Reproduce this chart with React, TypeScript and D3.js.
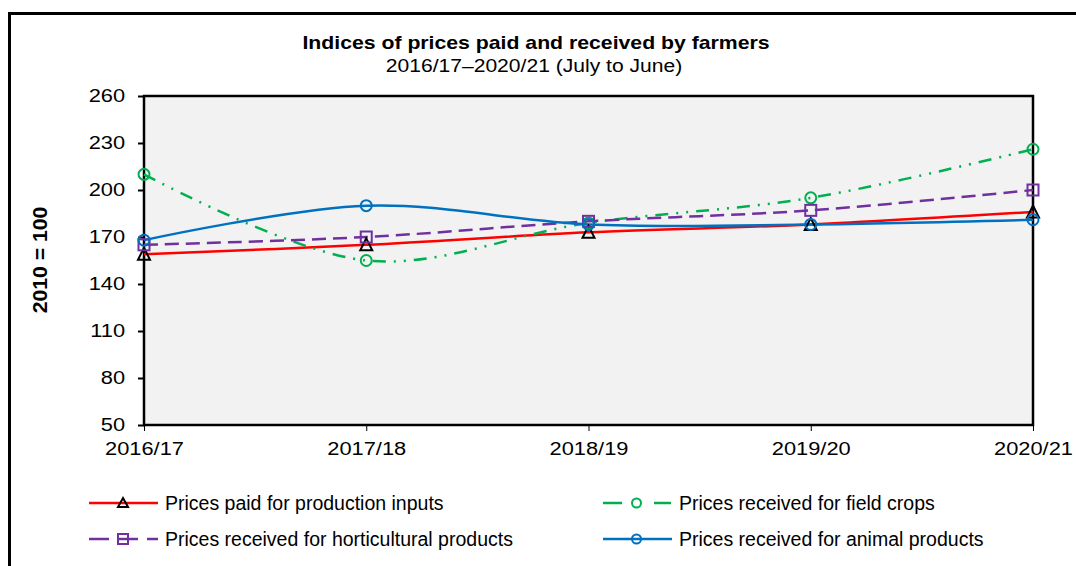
import React, { useRef, useEffect } from 'react';
import * as d3 from 'd3';

// Years (July to June)
const years = ['2016/17', '2017/18', '2018/19', '2019/20', '2020/21'];

// Index values, 2010 = 100
const paidInputs = [159, 165, 173, 178, 186];
const fieldCrops = [210, 155, 179, 195, 226];
const horticultural = [165, 170, 180, 187, 200];
const animalProducts = [168, 190, 178, 178, 181];

const yTicks = [50, 80, 110, 140, 170, 200, 230, 260];

const seriesList = [
  { name: 'Prices paid for production inputs', values: paidInputs, color: '#ff0000', dash: 'none', marker: 'triangle', markerColor: '#000000' },
  { name: 'Prices received for field crops', values: fieldCrops, color: '#00b050', dash: '13,8,2,8,2,8', marker: 'circle', markerColor: '#00b050' },
  { name: 'Prices received for horticultural products', values: horticultural, color: '#7030a0', dash: '14,7', marker: 'square', markerColor: '#7030a0' },
  { name: 'Prices received for animal products', values: animalProducts, color: '#0070c0', dash: 'none', marker: 'circle', markerColor: '#0070c0' },
];

const FONT = '"Liberation Sans", Arial, sans-serif';

const drawMarker = (g, type, cx, cy, color) => {
  if (type === 'triangle') {
    g.append('path')
      .attr('d', `M${cx},${cy - 6.5}L${cx + 6},${cy + 5.5}L${cx - 6},${cy + 5.5}Z`)
      .attr('fill', 'none')
      .attr('stroke', color)
      .attr('stroke-width', 2);
  } else if (type === 'square') {
    g.append('rect')
      .attr('x', cx - 5.5).attr('y', cy - 5.5)
      .attr('width', 11).attr('height', 11)
      .attr('fill', 'none')
      .attr('stroke', color)
      .attr('stroke-width', 2);
  } else {
    g.append('circle')
      .attr('cx', cx).attr('cy', cy).attr('r', 5.5)
      .attr('fill', 'none')
      .attr('stroke', color)
      .attr('stroke-width', 2);
  }
};

const App = () => {
  const ref = useRef(null);
  const width = 1076;
  const height = 566;

  useEffect(() => {
    const svg = d3.select(ref.current);
    svg.selectAll('*').remove();

    const plot = { left: 144, right: 1033, top: 96, bottom: 425 };

    const x = d3.scalePoint().domain(years).range([plot.left, plot.right]);
    const y = d3.scaleLinear().domain([50, 260]).range([plot.bottom, plot.top]);

    // Outer frame (runs off the right and bottom edge)
    svg.append('rect')
      .attr('x', 9.5).attr('y', 13.5)
      .attr('width', 1100).attr('height', 600)
      .attr('fill', '#ffffff')
      .attr('stroke', '#000')
      .attr('stroke-width', 3);

    // Titles (the original text is a bit wider than Arial)
    svg.append('text')
      .attr('transform', 'translate(536,49) scale(1.18,1)')
      .attr('text-anchor', 'middle')
      .attr('font-family', FONT)
      .attr('font-size', '18px')
      .attr('font-weight', 'bold')
      .text('Indices of prices paid and received by farmers');

    svg.append('text')
      .attr('transform', 'translate(534,72) scale(1.14,1)')
      .attr('text-anchor', 'middle')
      .attr('font-family', FONT)
      .attr('font-size', '18.5px')
      .text('2016/17\u20132020/21 (July to June)');

    // Plot background
    svg.append('rect')
      .attr('x', plot.left).attr('y', plot.top)
      .attr('width', plot.right - plot.left)
      .attr('height', plot.bottom - plot.top)
      .attr('fill', '#f2f2f2');

    // Y axis
    const yAxis = svg.append('g')
      .attr('transform', `translate(${plot.left},0)`)
      .call(d3.axisLeft(y).tickValues(yTicks).tickSize(6).tickPadding(10));
    yAxis.select('.domain').remove();
    yAxis.selectAll('line').attr('stroke', '#000').attr('stroke-width', 2);
    yAxis.selectAll('text')
      .attr('transform', 'scale(1.18,1)')
      .attr('font-family', FONT)
      .attr('font-size', '18.5px')
      .attr('fill', '#000');

    // X axis
    const xAxis = svg.append('g')
      .attr('transform', `translate(0,${plot.bottom})`)
      .call(d3.axisBottom(x).tickSize(6).tickPadding(11));
    xAxis.select('.domain').remove();
    xAxis.selectAll('line').attr('stroke', '#000').attr('stroke-width', 1);
    xAxis.selectAll('text')
      .attr('transform', 'scale(1.18,1)')
      .attr('font-family', FONT)
      .attr('font-size', '18.5px')
      .attr('fill', '#000');

    // Plot border
    svg.append('rect')
      .attr('x', plot.left).attr('y', plot.top)
      .attr('width', plot.right - plot.left)
      .attr('height', plot.bottom - plot.top)
      .attr('fill', 'none')
      .attr('stroke', '#000')
      .attr('stroke-width', 2.5);

    // Y axis title
    svg.append('text')
      .attr('transform', 'translate(46.5,260) rotate(-90) scale(1.06,1)')
      .attr('text-anchor', 'middle')
      .attr('font-family', FONT)
      .attr('font-size', '20px')
      .attr('font-weight', 'bold')
      .text('2010 = 100');

    // Smoothed lines like the spreadsheet
    const line = d3.line()
      .x((d, i) => x(years[i]))
      .y(d => y(d))
      .curve(d3.curveCatmullRom.alpha(0.5));

    seriesList.forEach(s => {
      svg.append('path')
        .datum(s.values)
        .attr('fill', 'none')
        .attr('stroke', s.color)
        .attr('stroke-width', 2.5)
        .attr('stroke-dasharray', s.dash)
        .attr('d', line);
    });

    seriesList.forEach(s => {
      const g = svg.append('g');
      s.values.forEach((v, i) => drawMarker(g, s.marker, x(years[i]), y(v), s.markerColor));
    });

    // Legend, two columns
    const legendPos = [
      { x: 89, y: 503 },
      { x: 603, y: 503 },
      { x: 89, y: 539 },
      { x: 603, y: 539 },
    ];
    seriesList.forEach((s, i) => {
      const p = legendPos[i];
      const g = svg.append('g').attr('transform', `translate(${p.x},${p.y})`);
      if (s.dash === 'none') {
        g.append('line').attr('x1', 0).attr('x2', 69).attr('y1', 0).attr('y2', 0)
          .attr('stroke', s.color).attr('stroke-width', 2.5);
      } else if (s.marker === 'square') {
        g.append('line').attr('x1', 0).attr('x2', 20).attr('y1', 0).attr('y2', 0)
          .attr('stroke', s.color).attr('stroke-width', 2.5);
        g.append('line').attr('x1', 28).attr('x2', 49).attr('y1', 0).attr('y2', 0)
          .attr('stroke', s.color).attr('stroke-width', 2.5);
        g.append('line').attr('x1', 58).attr('x2', 69).attr('y1', 0).attr('y2', 0)
          .attr('stroke', s.color).attr('stroke-width', 2.5);
      } else {
        g.append('line').attr('x1', 0).attr('x2', 19).attr('y1', 0).attr('y2', 0)
          .attr('stroke', s.color).attr('stroke-width', 2.5);
        g.append('line').attr('x1', 51).attr('x2', 68).attr('y1', 0).attr('y2', 0)
          .attr('stroke', s.color).attr('stroke-width', 2.5);
      }
      if (s.marker === 'triangle') {
        g.append('path').attr('d', 'M34,-5L39,4L29,4Z')
          .attr('fill', 'none').attr('stroke', s.markerColor).attr('stroke-width', 2);
      } else if (s.marker === 'square') {
        g.append('rect').attr('x', 29).attr('y', -5).attr('width', 10).attr('height', 10)
          .attr('fill', 'none').attr('stroke', s.markerColor).attr('stroke-width', 2);
      } else {
        g.append('circle').attr('cx', 33.5).attr('cy', 0).attr('r', 4.5)
          .attr('fill', 'none').attr('stroke', s.markerColor).attr('stroke-width', 2);
      }
      g.append('text')
        .attr('x', 76).attr('y', 6.5)
        .attr('font-family', FONT)
        .attr('font-size', '19.5px')
        .attr('fill', '#000')
        .text(s.name);
    });
  }, []);

  return (
    <svg ref={ref} width={width} height={height} style={{ display: 'block', position: 'absolute', left: 0, top: 0 }} />
  );
};

export default App;
